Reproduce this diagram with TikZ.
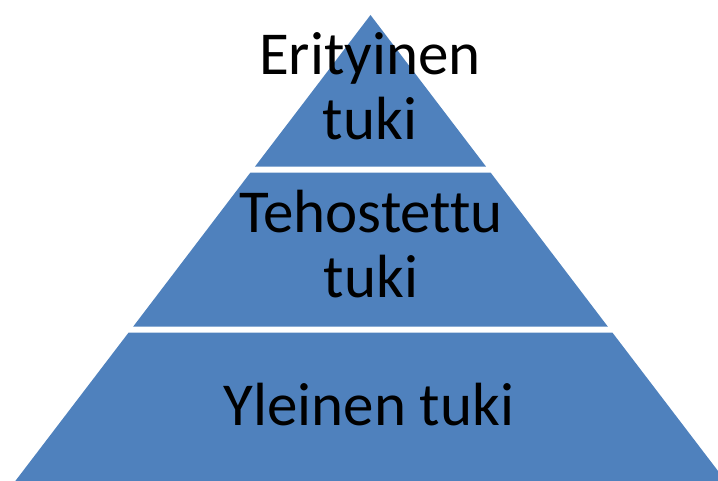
\documentclass[tikz,border=0pt]{standalone}
\usepackage{fontspec}
\setmainfont[Ligatures=NoCommon]{Carlito}
\definecolor{pyrblue}{RGB}{79,129,189}
\begin{document}
\begin{tikzpicture}[x=1pt,y=-1pt,
  band/.style={fill=pyrblue,draw=none},
  lbl/.style={inner sep=0pt,anchor=base,align=center,text=black,
    font=\fontsize{61}{65}\selectfont}]
\useasboundingbox (0,0) rectangle (718,481);
\clip (0,0) rectangle (718,481);
% apex (370.5,15), half-width slope 0.762
\path[band] (370.5,15) -- (486.1,166.7) -- (254.9,166.7) -- cycle;
\path[band] (250.3,172.7) -- (490.7,172.7) -- (607.9,326.7) -- (133.1,326.7) -- cycle;
\path[band] (128.5,332.7) -- (612.5,332.7) -- (727.2,483) -- (13.8,483) -- cycle;
\node[lbl] (top) at (370,139.5) {Erityinen\\tuki};
\node[lbl] (mid) at (371,298) {Tehostettu\\tuki};
\node[lbl] (bot) at (369,425) {Yleinen tuki};
\end{tikzpicture}
\end{document}
